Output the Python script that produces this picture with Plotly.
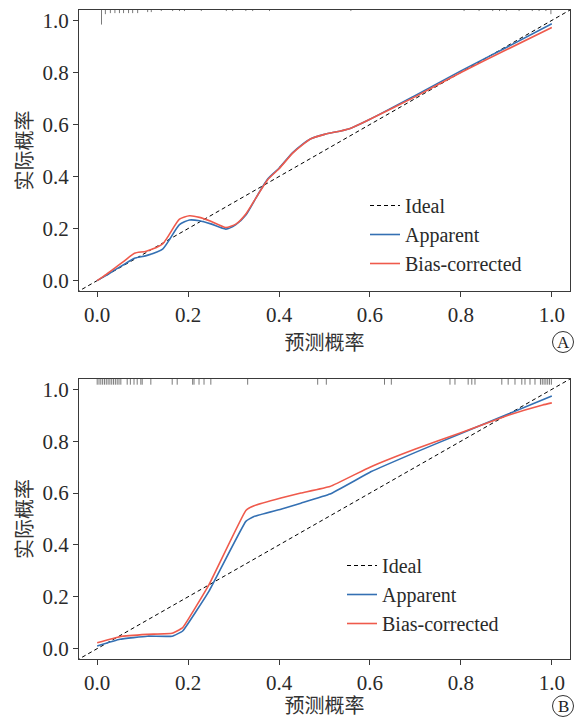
import plotly.graph_objects as go

# ---------------- data ----------------
# Panel A
a_x = [0.0, 0.02, 0.04, 0.06, 0.082, 0.108, 0.144, 0.181, 0.203, 0.225, 0.25, 0.283, 0.305,
       0.327, 0.35, 0.375, 0.4, 0.43, 0.45, 0.47, 0.5, 0.555, 0.6, 0.7, 0.8, 0.9, 1.0]
a_apparent = [0.0, 0.02, 0.042, 0.063, 0.086, 0.096, 0.121, 0.215, 0.233, 0.230, 0.218, 0.198, 0.215,
              0.252, 0.32, 0.39, 0.432, 0.492, 0.522, 0.545, 0.562, 0.584, 0.62, 0.712, 0.806, 0.896, 0.987]
a_bias = [0.0, 0.024, 0.05, 0.076, 0.105, 0.113, 0.141, 0.236, 0.249, 0.243, 0.228, 0.204, 0.217,
          0.256, 0.32, 0.388, 0.43, 0.49, 0.52, 0.545, 0.562, 0.584, 0.62, 0.707, 0.8, 0.887, 0.973]
a_rug_x = [0.0095, 0.018, 0.029, 0.039, 0.049, 0.058, 0.069, 0.078, 0.089, 0.111, 0.119, 0.141,
           0.166, 0.181, 0.192, 0.229, 0.284, 0.298, 0.327, 0.342, 0.379, 0.558, 0.807, 0.84,
           0.87, 0.885, 0.9, 0.928, 0.957, 0.972, 0.987, 0.998]
a_rug_n = [14, 4, 3, 3, 3, 3, 3, 3, 3, 2, 2, 1, 1, 1, 1, 1, 1, 1, 1, 1, 1, 1, 1, 1,
           1, 1, 1, 1, 1, 1, 1, 4]

# Panel B
b_app_x = [0.0, 0.05, 0.11, 0.165, 0.188, 0.246, 0.327, 0.345, 0.404, 0.448, 0.512, 0.603,
           0.7, 0.8, 0.904, 1.0]
b_apparent = [0.01, 0.036, 0.048, 0.048, 0.068, 0.222, 0.491, 0.51, 0.538, 0.561, 0.596, 0.683,
              0.757, 0.83, 0.905, 0.974]
b_bias_x = [0.0, 0.05, 0.11, 0.165, 0.188, 0.246, 0.327, 0.345, 0.404, 0.448, 0.512, 0.6,
            0.7, 0.8, 0.904, 0.98, 1.0]
b_bias = [0.023, 0.046, 0.055, 0.059, 0.081, 0.247, 0.533, 0.551, 0.581, 0.6, 0.625, 0.70,
          0.77, 0.833, 0.9, 0.94, 0.948]
b_rug_x = [0.0, 0.004, 0.008, 0.012, 0.016, 0.02, 0.024, 0.028, 0.032, 0.036, 0.04, 0.044,
           0.048, 0.052, 0.066, 0.073, 0.081, 0.088, 0.096, 0.099, 0.118, 0.165, 0.176, 0.21,
           0.213, 0.224, 0.235, 0.25, 0.331, 0.485, 0.504, 0.632, 0.647, 0.776, 0.787, 0.816,
           0.824, 0.831, 0.89, 0.904, 0.919, 0.934, 0.941, 0.952, 0.963, 0.975, 0.979, 0.983,
           0.987, 0.991, 0.995, 0.999]

x_ticks = [0.0, 0.2, 0.4, 0.6, 0.8, 1.0]
y_ticks = [0.0, 0.2, 0.4, 0.6, 0.8, 1.0]
x_title = "预测概率"
y_title = "实际概率"
names = ["Ideal", "Apparent", "Bias-corrected"]
panel_labels = ["A", "B"]

# ---------------- style ----------------
BLUE = "#3470b3"
RED = "#ef5a4c"
SERIF = "Liberation Serif, Times New Roman, serif"
CJK = "Noto Sans CJK SC"
AX = "#3a3a3a"
RNG = [-0.04, 1.04]

# page body has an 8px default margin; figure is sized so the plot lands where the reference has it
W, H = 576, 711
ML, MR, MT, MB = 71, 14, 2, 60


def rug_trace(xs, ns, unit, xa, ya):
    px, py = [], []
    for x, n in zip(xs, ns):
        px += [x, x, None]
        py += [RNG[1], RNG[1] - n * unit, None]
    return go.Scatter(x=px, y=py, mode="lines", line=dict(color="#7a7a7a", width=1),
                      showlegend=False, hoverinfo="skip", xaxis=xa, yaxis=ya)


fig = go.Figure()

# Panel A traces
fig.add_trace(go.Scatter(x=[-0.1, 1.1], y=[-0.1, 1.1], mode="lines", name=names[0],
                         line=dict(color="black", width=1, dash="4px,3px"),
                         xaxis="x", yaxis="y", legend="legend"))
fig.add_trace(go.Scatter(x=a_x, y=a_apparent, mode="lines", name=names[1],
                         line=dict(color=BLUE, width=1.6, shape="spline", smoothing=0.6),
                         xaxis="x", yaxis="y", legend="legend"))
fig.add_trace(go.Scatter(x=a_x, y=a_bias, mode="lines", name=names[2],
                         line=dict(color=RED, width=1.6, shape="spline", smoothing=0.6),
                         xaxis="x", yaxis="y", legend="legend"))
fig.add_trace(rug_trace(a_rug_x, a_rug_n, 0.004, "x", "y"))

# Panel B traces
fig.add_trace(go.Scatter(x=[-0.1, 1.1], y=[-0.1, 1.1], mode="lines", name=names[0],
                         line=dict(color="black", width=1, dash="4px,3px"),
                         xaxis="x2", yaxis="y2", legend="legend2"))
fig.add_trace(go.Scatter(x=b_app_x, y=b_apparent, mode="lines", name=names[1],
                         line=dict(color=BLUE, width=1.6, shape="spline", smoothing=0.3),
                         xaxis="x2", yaxis="y2", legend="legend2"))
fig.add_trace(go.Scatter(x=b_bias_x, y=b_bias, mode="lines", name=names[2],
                         line=dict(color=RED, width=1.6, shape="spline", smoothing=0.3),
                         xaxis="x2", yaxis="y2", legend="legend2"))
fig.add_trace(rug_trace(b_rug_x, [1] * len(b_rug_x), 0.022, "x2", "y2"))


def xaxis(domain, anchor):
    return dict(domain=domain, anchor=anchor, range=RNG, tickvals=x_ticks,
                ticktext=[f"{v:.1f}" for v in x_ticks], ticks="outside", ticklen=5,
                tickcolor=AX, showline=True, linecolor=AX, linewidth=1.2, mirror=True,
                showgrid=False, zeroline=False,
                tickfont=dict(family=SERIF, size=21, color="#2a2a2a"),
                title=dict(text=x_title, font=dict(family=CJK, size=20, color="#333"),
                           standoff=3))


def yaxis(domain, anchor):
    return dict(domain=domain, anchor=anchor, range=RNG, tickvals=y_ticks,
                ticktext=[f"{v:.1f}" for v in y_ticks], ticks="outside", ticklen=5,
                tickcolor=AX, showline=True, linecolor=AX, linewidth=1.2, mirror=True,
                showgrid=False, zeroline=False,
                tickfont=dict(family=SERIF, size=21, color="#2a2a2a"),
                title=dict(text=y_title, font=dict(family=CJK, size=20, color="#333"),
                           standoff=4))


legend_common = dict(font=dict(family=SERIF, size=20, color="#2a2a2a"), bgcolor="rgba(0,0,0,0)",
                     itemwidth=30, tracegroupgap=0, xanchor="left", yanchor="top")

PH = H - MT - MB  # plot-area height in px
PW = W - ML - MR


def py2paper(py_screen):
    return (H - MB + 8 - py_screen) / PH


def px2paper(px_screen):
    return (px_screen - 8 - ML) / PW


shapes = []
annotations = []
for lab, (cx, cy) in zip(panel_labels, [(563, 342), (563, 706)]):
    shapes.append(dict(type="circle", xref="paper", yref="paper",
                       x0=px2paper(cx - 10.5), x1=px2paper(cx + 10.5),
                       y0=py2paper(cy + 10.5), y1=py2paper(cy - 10.5),
                       line=dict(color="#333", width=1)))
    annotations.append(dict(text=lab, xref="paper", yref="paper", x=px2paper(cx), y=py2paper(cy),
                            showarrow=False, xanchor="center", yanchor="middle",
                            font=dict(family=SERIF, size=17, color="#222")))

fig.update_layout(
    width=W, height=H,
    margin=dict(l=ML, r=MR, t=MT, b=MB),
    paper_bgcolor="white", plot_bgcolor="white",
    xaxis=xaxis([0, 1], "y"), yaxis=yaxis([py2paper(291), 1.0], "x"),
    xaxis2=xaxis([0, 1], "y2"), yaxis2=yaxis([0.0, py2paper(379)], "x2"),
    legend=dict(x=px2paper(365), y=py2paper(186), **legend_common),
    legend2=dict(x=px2paper(342), y=py2paper(546), **legend_common),
    shapes=shapes, annotations=annotations,
)

fig.write_html("out.html")
